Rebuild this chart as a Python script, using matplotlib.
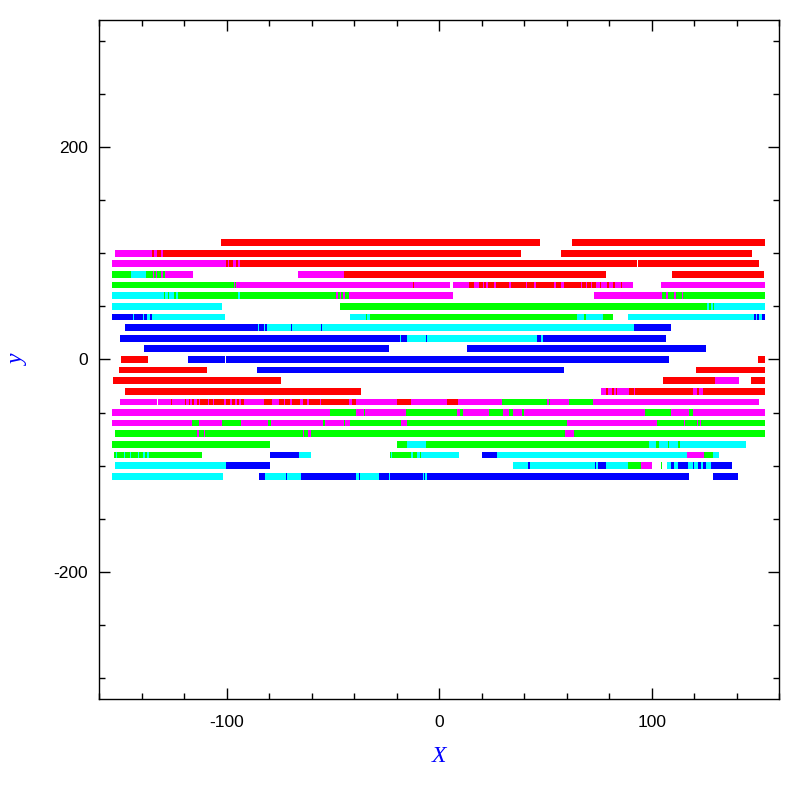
import matplotlib
matplotlib.use('Agg')
import matplotlib.pyplot as plt
from matplotlib.ticker import MultipleLocator

plt.rcParams['axes.unicode_minus'] = False  # guion simple como en el original

# colores de cada tipo de segmento
colores = {'r': '#ff0000', 'm': '#ff00ff', 'g': '#00ff00', 'c': '#00ffff', 'b': '#0000ff'}

# posiciones y de cada fila
filas_y = [110, 100, 90, 80, 70, 60, 50, 40, 30, 20, 10, 0,
           -10, -20, -30, -40, -50, -60, -70, -80, -90, -100, -110]

# segmentos de cada fila: (x inicial, x final, tipo)
fila_110 = [(-102.8, 47.3, 'r'), (62.5, 153.2, 'r')]
fila_100 = [(-152.6, -135.1, 'm'), (-135.1, -134.3, 'r'), (-134.3, -133.0, 'm'),
            (-133.0, -131.2, 'r'), (-131.2, -130.1, 'm'), (-130.1, 38.6, 'r'),
            (57.4, 147.0, 'r')]
fila_90 = [(-154.0, -100.3, 'm'), (-100.3, -99.6, 'r'), (-99.6, -98.9, 'm'),
           (-98.9, -97.2, 'r'), (-97.2, -95.5, 'm'), (-95.5, -94.7, 'r'),
           (-94.7, -93.9, 'm'), (-93.9, 93.0, 'r'), (93.5, 150.4, 'r')]
fila_80 = [(-154.0, -145.1, 'g'), (-145.1, -138.2, 'c'), (-138.2, -134.8, 'g'),
           (-134.8, -134.3, 'm'), (-134.3, -133.2, 'g'), (-133.2, -132.7, 'm'),
           (-132.7, -131.2, 'g'), (-131.2, -129.9, 'm'), (-129.9, -129.3, 'g'),
           (-129.3, -116.0, 'm'), (-66.6, -45.0, 'm'), (-45.0, 78.6, 'r'),
           (109.4, 152.7, 'r')]
fila_70 = [(-154.0, -96.7, 'g'), (-96.7, -96.2, 'm'), (-96.2, -95.5, 'g'),
           (-95.5, -12.2, 'm'), (-12.2, -11.7, 'r'), (-11.7, 5.0, 'm'),
           (6.3, 14.1, 'm'), (14.1, 16.5, 'r'), (16.5, 18.5, 'm'), (18.5, 20.4, 'r'),
           (20.4, 21.2, 'm'), (21.2, 22.0, 'r'), (22.0, 22.7, 'm'), (22.7, 25.9, 'r'),
           (25.9, 26.7, 'm'), (26.7, 32.9, 'r'), (32.9, 33.7, 'm'), (33.7, 40.8, 'r'),
           (40.8, 41.5, 'm'), (41.5, 44.7, 'r'), (44.7, 45.5, 'm'), (45.5, 54.1, 'r'),
           (54.1, 54.9, 'm'), (54.9, 57.2, 'r'), (57.2, 58.8, 'm'), (58.8, 66.6, 'r'),
           (66.6, 67.1, 'm'), (67.1, 68.8, 'r'), (68.8, 69.4, 'm'), (69.4, 71.2, 'r'),
           (71.2, 71.8, 'm'), (71.8, 73.6, 'r'), (73.6, 75.5, 'm'), (75.5, 76.2, 'r'),
           (76.2, 79.1, 'm'), (79.1, 79.8, 'r'), (79.8, 81.8, 'm'), (81.8, 82.5, 'r'),
           (82.5, 85.4, 'm'), (85.4, 86.1, 'r'), (86.1, 91.2, 'm'), (104.3, 153.2, 'm')]
fila_60 = [(-154.0, -129.6, 'c'), (-129.6, -129.1, 'g'), (-129.1, -127.7, 'c'),
           (-127.7, -127.2, 'g'), (-127.2, -124.9, 'c'), (-124.9, -124.1, 'g'),
           (-124.1, -122.9, 'c'), (-122.9, -94.7, 'g'), (-94.7, -94.0, 'c'),
           (-94.0, -48.5, 'g'), (-48.5, -47.7, 'm'), (-47.7, -46.9, 'g'),
           (-46.9, -46.1, 'm'), (-46.1, -45.4, 'g'), (-45.4, -44.6, 'm'),
           (-44.6, -42.6, 'g'), (-42.6, 6.6, 'm'), (72.8, 105.0, 'm'),
           (105.0, 106.5, 'g'), (106.5, 107.8, 'm'), (107.8, 110.4, 'g'),
           (110.4, 111.5, 'm'), (111.5, 114.0, 'g'), (114.0, 114.7, 'm'),
           (114.7, 153.2, 'g')]
fila_50 = [(-154.0, -102.3, 'c'), (-46.9, 126.1, 'g'), (126.1, 126.9, 'c'),
           (126.9, 127.7, 'g'), (127.7, 128.7, 'c'), (128.7, 129.5, 'g'),
           (129.5, 153.2, 'c')]
fila_40 = [(-154.0, -144.2, 'b'), (-144.2, -143.5, 'c'), (-143.5, -139.3, 'b'),
           (-139.3, -138.8, 'c'), (-138.8, -137.4, 'b'), (-137.4, -136.2, 'c'),
           (-136.2, -135.1, 'b'), (-135.1, -100.9, 'c'), (-42.2, -34.7, 'c'),
           (-34.7, -34.1, 'g'), (-34.1, -32.8, 'c'), (-32.8, 64.7, 'g'),
           (64.7, 68.0, 'c'), (68.0, 69.0, 'g'), (69.0, 76.8, 'c'), (76.8, 81.8, 'g'),
           (88.8, 148.0, 'c'), (148.0, 148.8, 'b'), (148.8, 149.6, 'c'),
           (149.6, 150.4, 'b'), (150.4, 151.9, 'c'), (151.9, 153.2, 'b')]
fila_30 = [(-147.9, -85.3, 'b'), (-85.3, -85.0, 'c'), (-85.0, -82.3, 'b'),
           (-82.3, -81.8, 'c'), (-81.8, -81.1, 'b'), (-81.1, -69.8, 'c'),
           (-69.8, -69.3, 'b'), (-69.3, -55.7, 'c'), (-55.7, -55.2, 'b'),
           (-55.2, 91.6, 'c'), (91.6, 109.0, 'b')]
fila_20 = [(-150.3, -18.3, 'b'), (-18.3, -17.8, 'c'), (-17.8, -15.1, 'b'),
           (-15.1, -9.3, 'c'), (-9.3, -8.9, 'b'), (-8.9, -6.2, 'c'), (-6.2, -5.6, 'b'),
           (-5.6, 46.2, 'c'), (46.2, 47.8, 'b'), (47.8, 48.6, 'c'), (48.6, 106.7, 'b')]
fila_10 = [(-139.0, -23.9, 'b'), (13.2, 125.3, 'b')]
fila_0 = [(-149.8, -137.1, 'r'), (-118.3, -101.0, 'b'), (-100.6, 108.0, 'b'),
          (149.9, 153.2, 'r')]
fila_m10 = [(-150.7, -109.3, 'r'), (-85.9, 58.8, 'b'), (120.7, 153.2, 'r')]
fila_m20 = [(-153.5, -74.6, 'r'), (105.4, 129.6, 'r'), (129.6, 141.0, 'm'),
            (146.6, 153.2, 'r')]
fila_m30 = [(-147.9, -37.0, 'r'), (76.1, 78.5, 'm'), (78.5, 79.4, 'r'),
            (79.4, 81.4, 'm'), (81.4, 82.4, 'r'), (82.4, 83.3, 'm'), (83.3, 83.8, 'r'),
            (83.8, 89.3, 'm'), (89.3, 91.6, 'r'), (91.6, 92.1, 'm'), (92.1, 119.4, 'r'),
            (119.4, 121.4, 'm'), (121.4, 122.2, 'r'), (122.2, 124.0, 'm'),
            (124.0, 153.2, 'r')]
fila_m40 = [(-150.3, -132.7, 'm'), (-132.3, -126.2, 'm'), (-126.2, -125.7, 'r'),
            (-125.7, -119.7, 'm'), (-119.7, -119.1, 'r'), (-119.1, -117.8, 'm'),
            (-117.8, -117.3, 'r'), (-117.3, -116.3, 'm'), (-116.3, -115.6, 'r'),
            (-115.6, -113.8, 'm'), (-113.8, -113.2, 'r'), (-113.2, -112.4, 'm'),
            (-112.4, -108.8, 'r'), (-108.8, -108.2, 'm'), (-108.2, -106.4, 'r'),
            (-106.4, -105.8, 'm'), (-105.8, -101.4, 'r'), (-101.4, -100.6, 'm'),
            (-100.6, -98.3, 'r'), (-98.3, -97.7, 'm'), (-97.7, -96.0, 'r'),
            (-96.0, -95.4, 'm'), (-95.4, -94.1, 'r'), (-94.1, -93.5, 'm'),
            (-93.5, -92.0, 'r'), (-92.0, -82.6, 'm'), (-82.6, -78.7, 'r'),
            (-78.7, -75.6, 'm'), (-75.6, -73.2, 'r'), (-73.2, -72.7, 'm'),
            (-72.7, -70.1, 'r'), (-70.1, -69.4, 'm'), (-69.4, -65.4, 'r'),
            (-65.4, -64.3, 'm'), (-64.3, -62.3, 'r'), (-62.3, -61.2, 'm'),
            (-61.2, -56.0, 'r'), (-56.0, -55.5, 'm'), (-55.5, -42.7, 'r'),
            (-42.7, -41.1, 'm'), (-41.1, -39.4, 'r'), (-39.4, -19.8, 'm'),
            (-19.8, -13.2, 'r'), (-13.2, 3.5, 'm'), (3.5, 9.0, 'r'), (9.0, 29.5, 'm'),
            (29.5, 50.6, 'g'), (50.6, 51.5, 'm'), (51.5, 52.0, 'g'), (52.0, 61.1, 'm'),
            (61.1, 72.1, 'g'), (72.1, 150.4, 'm')]
fila_m50 = [(-154.0, -51.6, 'm'), (-51.6, -39.4, 'g'), (-39.4, -35.5, 'm'),
            (-35.5, -35.0, 'g'), (-35.0, -15.9, 'm'), (-15.9, 8.3, 'g'), (8.3, 9.9, 'm'),
            (9.9, 11.3, 'g'), (11.3, 23.2, 'm'), (23.2, 30.1, 'g'), (30.1, 32.9, 'm'),
            (32.9, 34.8, 'g'), (34.8, 38.7, 'm'), (38.7, 40.0, 'g'), (40.0, 96.8, 'm'),
            (96.8, 109.0, 'g'), (109.0, 117.5, 'm'), (117.5, 119.4, 'g'),
            (119.4, 153.2, 'm')]
fila_m60 = [(-154.0, -116.4, 'm'), (-116.4, -113.2, 'g'), (-113.2, -102.2, 'm'),
            (-102.2, -93.3, 'g'), (-93.3, -80.6, 'm'), (-80.6, -79.3, 'g'),
            (-79.3, -54.6, 'm'), (-54.6, -54.0, 'g'), (-54.0, -45.0, 'm'),
            (-45.0, -44.4, 'g'), (-44.4, -41.8, 'm'), (-41.8, -17.9, 'g'),
            (-17.9, -15.1, 'm'), (-15.1, 60.0, 'g'), (60.0, 102.3, 'm'),
            (102.3, 115.1, 'g'), (115.1, 115.6, 'm'), (115.6, 121.1, 'g'),
            (121.1, 121.6, 'm'), (121.6, 122.6, 'g'), (122.6, 123.1, 'm'),
            (123.1, 153.2, 'g')]
fila_m70 = [(-152.6, -113.8, 'g'), (-113.8, -113.2, 'm'), (-113.2, -110.7, 'g'),
            (-110.7, -110.1, 'm'), (-110.1, -64.3, 'g'), (-64.3, -63.8, 'm'),
            (-63.8, -61.8, 'g'), (-61.8, -60.5, 'm'), (-60.5, 59.2, 'g'),
            (59.2, 63.5, 'm'), (63.5, 153.2, 'g')]
fila_m80 = [(-154.0, -79.8, 'g'), (-20.1, -15.0, 'g'), (-15.0, -6.1, 'c'),
            (-6.1, 98.7, 'g'), (98.7, 101.8, 'c'), (101.8, 103.4, 'g'),
            (103.4, 107.8, 'c'), (107.8, 108.1, 'g'), (108.1, 112.3, 'c'),
            (112.3, 113.2, 'g'), (113.2, 144.2, 'c')]
fila_m90 = [(-153.1, -152.3, 'g'), (-152.3, -151.7, 'c'), (-151.7, -148.5, 'g'),
            (-148.5, -148.0, 'c'), (-148.0, -145.5, 'g'), (-145.5, -145.0, 'c'),
            (-145.0, -142.0, 'g'), (-142.0, -141.2, 'c'), (-141.2, -139.5, 'g'),
            (-139.5, -138.5, 'c'), (-138.5, -137.5, 'g'), (-137.5, -136.6, 'c'),
            (-136.6, -111.7, 'g'), (-79.8, -66.2, 'b'), (-66.2, -60.5, 'c'),
            (-23.0, -22.6, 'g'), (-22.6, -22.2, 'c'), (-22.2, -13.1, 'g'),
            (-13.1, -12.5, 'c'), (-12.5, -10.6, 'g'), (-10.6, -9.3, 'c'),
            (-9.3, -8.5, 'g'), (-8.5, 9.1, 'c'), (9.1, 9.4, 'g'), (20.2, 27.3, 'b'),
            (27.3, 116.5, 'c'), (116.5, 124.5, 'm'), (124.5, 128.7, 'g'),
            (128.7, 131.5, 'c')]
fila_m100 = [(-152.6, -100.5, 'c'), (-100.5, -79.8, 'b'), (34.8, 41.9, 'c'),
             (41.9, 42.6, 'b'), (42.6, 73.3, 'c'), (73.3, 73.9, 'b'), (73.9, 74.7, 'c'),
             (74.7, 78.3, 'b'), (78.3, 88.8, 'c'), (88.8, 94.8, 'g'), (94.8, 100.1, 'm'),
             (104.3, 104.8, 'g'), (107.1, 109.0, 'c'), (109.0, 110.4, 'b'),
             (110.4, 112.3, 'c'), (112.3, 117.0, 'b'), (117.0, 119.4, 'c'),
             (119.4, 119.8, 'b'), (119.8, 121.7, 'c'), (121.7, 123.1, 'b'),
             (123.1, 124.0, 'c'), (124.0, 125.3, 'b'), (125.3, 127.8, 'c'),
             (127.8, 137.7, 'b')]
fila_m110 = [(-154.0, -101.8, 'c'), (-85.0, -81.8, 'b'), (-81.8, -72.1, 'c'),
             (-72.1, -71.6, 'b'), (-71.6, -65.2, 'c'), (-65.2, -39.1, 'b'),
             (-39.1, -37.9, 'c'), (-37.9, -37.4, 'b'), (-37.4, -28.6, 'c'),
             (-28.6, -23.9, 'b'), (-23.9, -23.0, 'c'), (-23.0, -7.5, 'b'),
             (-7.5, -7.0, 'c'), (-7.0, -6.5, 'b'), (-6.5, -5.6, 'c'),
             (-5.6, 117.5, 'b'), (128.7, 140.5, 'b')]

filas = [fila_110, fila_100, fila_90, fila_80, fila_70, fila_60, fila_50, fila_40,
         fila_30, fila_20, fila_10, fila_0, fila_m10, fila_m20, fila_m30, fila_m40,
         fila_m50, fila_m60, fila_m70, fila_m80, fila_m90, fila_m100, fila_m110]

fig = plt.figure(figsize=(7.97, 7.97), dpi=100)
ax = fig.add_axes([0.1246, 0.1226, 0.8532, 0.8529])

# dibuja cada segmento como una barra horizontal
for y, segs in zip(filas_y, filas):
    izq = [s[0] for s in segs]
    anchos = [s[1] - s[0] for s in segs]
    cols = [colores[s[2]] for s in segs]
    ax.barh([y] * len(segs), anchos, left=izq, height=6.3, color=cols,
            linewidth=0, antialiased=False)

ax.set_xlim(-160, 160)
ax.set_ylim(-320, 320)

# ejes con marcas hacia dentro en los cuatro lados
ax.xaxis.set_major_locator(MultipleLocator(100))
ax.xaxis.set_minor_locator(MultipleLocator(20))
ax.yaxis.set_major_locator(MultipleLocator(200))
ax.yaxis.set_minor_locator(MultipleLocator(50))
ax.tick_params(which='both', direction='in', top=True, right=True, width=1.0)
ax.tick_params(which='major', length=8)
ax.tick_params(which='minor', length=4)
ax.tick_params(axis='x', which='major', pad=11, labelsize=12.5)
ax.tick_params(axis='y', which='major', pad=8, labelsize=12.5)
for lab in ax.get_xticklabels() + ax.get_yticklabels():
    lab.set_family('Liberation Sans')
for sp in ax.spines.values():
    sp.set_linewidth(1.0)

ax.set_xlabel('X', fontsize=17, family='Liberation Serif', style='italic',
              color='#0000ff', labelpad=12)
ax.set_ylabel('y', fontsize=17, family='Liberation Serif', style='italic',
              color='#0000ff')
ax.yaxis.set_label_coords(-0.103, 0.5)

fig.savefig('out.png', dpi=100)
